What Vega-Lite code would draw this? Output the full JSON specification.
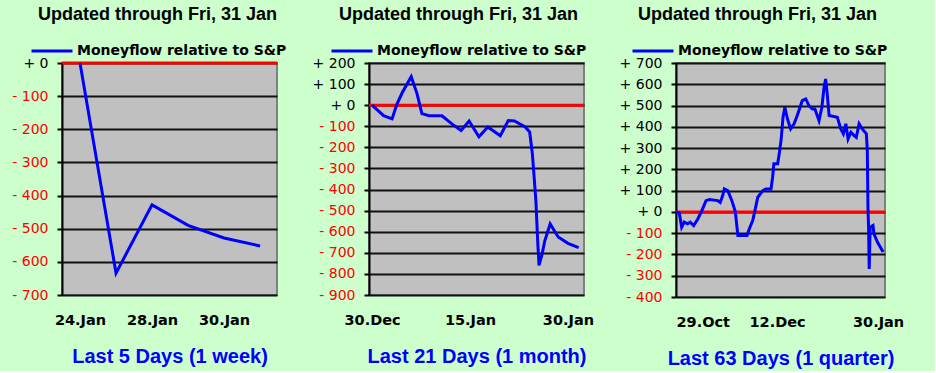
{
  "$schema": "https://vega.github.io/schema/vega-lite/v6.json",
  "background": "#CCFFCC",
  "autosize": {"type": "pad"},
  "padding": {"left": 10, "top": 5, "right": 30, "bottom": 1},
  "config": {
    "view": {"fill": "#C0C0C0", "stroke": "#808080", "strokeWidth": 2},
    "title": {"font": "Liberation Sans", "fontSize": 18, "fontWeight": "bold", "color": "#000000", "anchor": "middle", "frame": "group", "baseline": "alphabetic", "offset": 5},
    "axisY": {"grid": true, "gridColor": "#111111", "gridWidth": 2, "domainColor": "#000000", "domainWidth": 2, "tickColor": "#000000", "tickWidth": 2, "tickSize": 5, "tickCount": 30, "labelPadding": 9, "labelFont": "DejaVu Sans", "labelFontSize": 14, "labelExpr": "datum.value > 0 ? '+ ' + datum.value : (datum.value == 0 ? '+ 0' : '- ' + abs(datum.value))", "labelColor": {"expr": "datum.value < 0 ? '#FF0000' : '#000000'"}, "title": null, "labelOverlap": false},
    "axisX": {"grid": false, "ticks": false, "domain": false, "labelFont": "DejaVu Sans", "labelFontWeight": "bold", "labelFontSize": 14.5, "labelColor": "#000000", "labelPadding": 18, "labelOverlap": false, "labelBound": false, "titleColor": "#0000FF", "titleFont": "Liberation Sans", "titleFontSize": 20, "titleFontWeight": "bold", "titlePadding": 20},
    "legend": {"orient": "none", "title": null, "symbolType": "stroke", "symbolSize": 1681, "symbolStrokeWidth": 3, "symbolStrokeColor": "#0000FF", "labelFont": "DejaVu Sans", "labelFontWeight": "bold", "labelFontSize": 14, "labelColor": "#000000", "labelOffset": 3, "padding": 0, "labelLimit": 400}
  },
  "datasets": {
    "week": [
      {"d": 0, "v": 0}, {"d": 1, "v": -634}, {"d": 2, "v": -428}, {"d": 3, "v": -490}, {"d": 4, "v": -528}, {"d": 5, "v": -552}
    ],
    "month": [
      {"d": 0, "v": 0}, {"d": 1.3, "v": -50}, {"d": 2.25, "v": -65}, {"d": 2.8, "v": 5}, {"d": 3.4, "v": 60}, {"d": 4.4, "v": 135},
      {"d": 5.05, "v": 55}, {"d": 5.6, "v": -40}, {"d": 6.4, "v": -50}, {"d": 7.85, "v": -50}, {"d": 9.0, "v": -90}, {"d": 10.0, "v": -120},
      {"d": 10.9, "v": -75}, {"d": 12.0, "v": -150}, {"d": 13.0, "v": -103}, {"d": 14.4, "v": -145}, {"d": 15.3, "v": -73}, {"d": 16.0, "v": -75},
      {"d": 17.2, "v": -103}, {"d": 17.7, "v": -127}, {"d": 18.0, "v": -230}, {"d": 18.2, "v": -340}, {"d": 18.4, "v": -455}, {"d": 18.6, "v": -645},
      {"d": 18.75, "v": -760}, {"d": 19.1, "v": -705}, {"d": 19.4, "v": -643}, {"d": 20.0, "v": -563}, {"d": 20.9, "v": -625}, {"d": 22.0, "v": -655},
      {"d": 23.2, "v": -675}
    ],
    "quarter": [
      {"d": 0, "v": 0}, {"d": 1.05, "v": -5}, {"d": 1.8, "v": -72}, {"d": 2.6, "v": -48}, {"d": 3.7, "v": -56}, {"d": 4.5, "v": -48},
      {"d": 5.6, "v": -64}, {"d": 6.9, "v": -33}, {"d": 8.2, "v": 6}, {"d": 9.5, "v": 53}, {"d": 10.6, "v": 58}, {"d": 13.2, "v": 53},
      {"d": 14.0, "v": 45}, {"d": 14.8, "v": 77}, {"d": 15.3, "v": 108}, {"d": 16.4, "v": 100}, {"d": 17.7, "v": 53}, {"d": 18.8, "v": 0},
      {"d": 19.6, "v": -111}, {"d": 20.6, "v": -111}, {"d": 22.5, "v": -111}, {"d": 23.2, "v": -80}, {"d": 24.3, "v": -41}, {"d": 25.0, "v": 6},
      {"d": 25.9, "v": 69}, {"d": 27.5, "v": 100}, {"d": 28.5, "v": 108}, {"d": 30.1, "v": 108}, {"d": 30.6, "v": 163}, {"d": 31.0, "v": 226},
      {"d": 32.2, "v": 226}, {"d": 32.7, "v": 273}, {"d": 33.3, "v": 340}, {"d": 33.9, "v": 445}, {"d": 34.5, "v": 492}, {"d": 35.3, "v": 437},
      {"d": 36.3, "v": 390}, {"d": 37.4, "v": 414}, {"d": 38.4, "v": 453}, {"d": 40.0, "v": 523}, {"d": 41.1, "v": 531}, {"d": 42.1, "v": 500},
      {"d": 43.2, "v": 484}, {"d": 44.0, "v": 484}, {"d": 45.3, "v": 429}, {"d": 46.2, "v": 492}, {"d": 46.9, "v": 586}, {"d": 47.4, "v": 625},
      {"d": 47.9, "v": 555}, {"d": 48.5, "v": 453}, {"d": 51.1, "v": 445}, {"d": 52.2, "v": 390}, {"d": 53.0, "v": 367}, {"d": 53.8, "v": 414},
      {"d": 54.5, "v": 343}, {"d": 55.4, "v": 375}, {"d": 56.4, "v": 359}, {"d": 57.1, "v": 351}, {"d": 58.0, "v": 414}, {"d": 59.0, "v": 390},
      {"d": 60.3, "v": 367}, {"d": 60.6, "v": 288}, {"d": 60.7, "v": 155}, {"d": 60.8, "v": 22}, {"d": 61.0, "v": -72}, {"d": 61.2, "v": -268},
      {"d": 61.5, "v": -72}, {"d": 62.4, "v": -64}, {"d": 62.7, "v": -103}, {"d": 63.8, "v": -142}, {"d": 65.6, "v": -189}
    ]
  },
  "spacing": 92,
  "bounds": "flush",
  "resolve": {"scale": {"color": "independent"}, "legend": {"color": "independent"}},
  "hconcat": [
    {
      "width": 215, "height": 232,
      "title": {"text": "Updated through Fri, 31 Jan", "dx": -12},
      "layer": [
        {"data": {"values": [{}]}, "mark": {"type": "rule", "color": "#FF0000", "strokeWidth": 3}, "encoding": {"y": {"datum": 0, "type": "quantitative"}}},
        {"data": {"name": "week"}, "mark": {"type": "line", "strokeWidth": 3},
          "encoding": {
            "x": {"field": "d", "type": "quantitative", "scale": {"domain": [-0.5, 5.47], "nice": false, "zero": false},
              "axis": {"values": [0, 2, 4], "labelExpr": "datum.value == 0 ? '24.Jan' : (datum.value == 2 ? '28.Jan' : '30.Jan')", "title": "Last 5 Days (1 week)"}},
            "y": {"field": "v", "type": "quantitative", "scale": {"domain": [-700, 0], "nice": false, "zero": false},
              "axis": {"values": [-700, -600, -500, -400, -300, -200, -100, 0]}},
            "color": {"datum": "Moneyflow relative to S&P", "scale": {"range": ["#0000FF"]}, "legend": {"legendX": -32, "legendY": -34}}
          }}
      ]
    },
    {
      "width": 215, "height": 232,
      "title": {"text": "Updated through Fri, 31 Jan", "dx": -18},
      "layer": [
        {"data": {"values": [{}]}, "mark": {"type": "rule", "color": "#FF0000", "strokeWidth": 3}, "encoding": {"y": {"datum": 0, "type": "quantitative"}}},
        {"data": {"name": "month"}, "mark": {"type": "line", "strokeWidth": 3},
          "encoding": {
            "x": {"field": "d", "type": "quantitative", "scale": {"domain": [-0.34, 23.8], "nice": false, "zero": false},
              "axis": {"values": [0, 11, 22], "labelExpr": "datum.value == 0 ? '30.Dec' : (datum.value == 11 ? '15.Jan' : '30.Jan')", "title": "Last 21 Days (1 month)"}},
            "y": {"field": "v", "type": "quantitative", "scale": {"domain": [-900, 200], "nice": false, "zero": false},
              "axis": {"values": [-900, -800, -700, -600, -500, -400, -300, -200, -100, 0, 100, 200]}},
            "color": {"datum": "Moneyflow relative to S&P", "scale": {"range": ["#0000FF"]}, "legend": {"legendX": -39, "legendY": -34}}
          }}
      ]
    },
    {
      "width": 209, "height": 234,
      "title": {"text": "Updated through Fri, 31 Jan", "dx": -23},
      "layer": [
        {"data": {"values": [{}]}, "mark": {"type": "rule", "color": "#FF0000", "strokeWidth": 3}, "encoding": {"y": {"datum": 0, "type": "quantitative"}}},
        {"data": {"name": "quarter"}, "mark": {"type": "line", "strokeWidth": 3},
          "encoding": {
            "x": {"field": "d", "type": "quantitative", "scale": {"domain": [0, 66.2], "nice": false, "zero": false},
              "axis": {"values": [0, 32, 64], "labelExpr": "datum.value == 0 ? '29.Oct' : (datum.value == 32 ? '12.Dec' : '30.Jan')", "title": "Last 63 Days (1 quarter)"}},
            "y": {"field": "v", "type": "quantitative", "scale": {"domain": [-400, 700], "nice": false, "zero": false},
              "axis": {"values": [-400, -300, -200, -100, 0, 100, 200, 300, 400, 500, 600, 700]}},
            "color": {"datum": "Moneyflow relative to S&P", "scale": {"range": ["#0000FF"]}, "legend": {"legendX": -45, "legendY": -34}}
          }}
      ]
    }
  ]
}
